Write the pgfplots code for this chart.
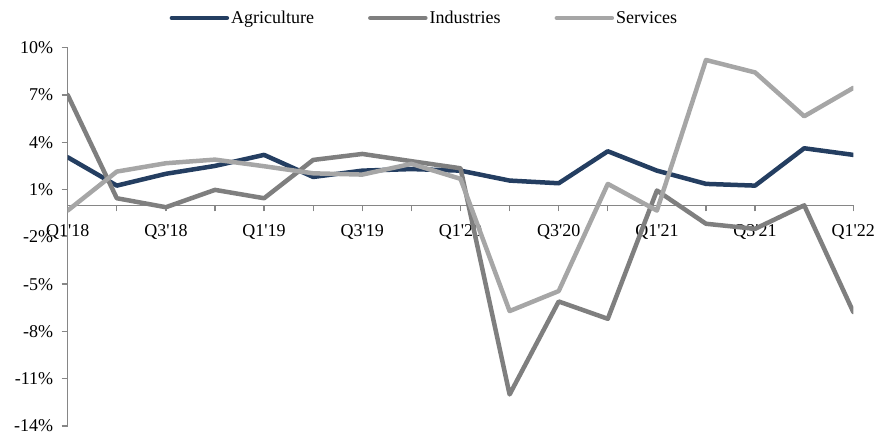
\documentclass[border=0pt]{standalone}
\usepackage{fontspec}
\setmainfont{Liberation Serif}[Ligatures=TeXOff]
\usepackage{pgfplots}
\pgfplotsset{compat=1.18}
\definecolor{agri}{RGB}{36,62,97}
\definecolor{indu}{RGB}{127,127,127}
\definecolor{serv}{RGB}{166,166,166}
\definecolor{axisgray}{RGB}{134,134,134}
\begin{document}
\begin{tikzpicture}
\useasboundingbox (-67.7bp,-6bp) rectangle (811.3bp,426bp);
\begin{axis}[
  scale only axis, width=785.6bp, height=378.3bp,
  at={(0,0)}, anchor=south west,
  font=\fontsize{18bp}{21bp}\selectfont,
  xmin=0, xmax=16, ymin=-14, ymax=10,
  axis x line=middle, axis y line=left,
  hide obscured x ticks=false,
  axis line style={draw=axisgray, line width=1.3bp, -},
  tick style={draw=axisgray, line width=1.3bp},
  tick align=outside, major tick length=6bp,
  xtick={0,...,16},
  xticklabels={Q1'18,,Q3'18,,Q1'19,,Q3'19,,Q1'20,,Q3'20,,Q1'21,,Q3'21,,Q1'22},
  ytick={-14,-11,-8,-5,-2,1,4,7,10},
  yticklabels={-14\%,-11\%,-8\%,-5\%,-2\%,1\%,4\%,7\%,10\%},
  xticklabel style={anchor=north, yshift=-10bp},
  yticklabel style={anchor=east, xshift=-5bp},
  legend columns=3,
  legend style={draw=none, fill=none, at={(0.454,1.0785)}, anchor=center,
    /tikz/every even column/.append style={column sep=52bp},
    nodes={inner xsep=2bp}},
  legend image code/.code={\draw[#1, line cap=round] (0bp,0bp) -- (55bp,0bp);},
  every axis plot/.append style={line width=4.5bp, line join=round, line cap=round, mark=none},
]
\addplot[agri] coordinates {(0,3.05) (1,1.25) (2,2.0) (3,2.5) (4,3.2) (5,1.8) (6,2.2) (7,2.3) (8,2.2) (9,1.57) (10,1.4) (11,3.43) (12,2.2) (13,1.36) (14,1.25) (15,3.62) (16,3.2)};
\addlegendentry{Agriculture}
\addplot[indu] coordinates {(0,7.0) (1,0.45) (2,-0.12) (3,0.98) (4,0.45) (5,2.88) (6,3.26) (7,2.8) (8,2.35) (9,-12.0) (10,-6.1) (11,-7.2) (12,0.94) (13,-1.17) (14,-1.49) (15,0.0) (16,-6.77)};
\addlegendentry{Industries}
\addplot[serv] coordinates {(0,-0.33) (1,2.14) (2,2.67) (3,2.9) (4,2.48) (5,2.03) (6,1.95) (7,2.63) (8,1.68) (9,-6.71) (10,-5.44) (11,1.36) (12,-0.33) (13,9.22) (14,8.43) (15,5.65) (16,7.45)};
\addlegendentry{Services}
\end{axis}
\end{tikzpicture}
\end{document}
